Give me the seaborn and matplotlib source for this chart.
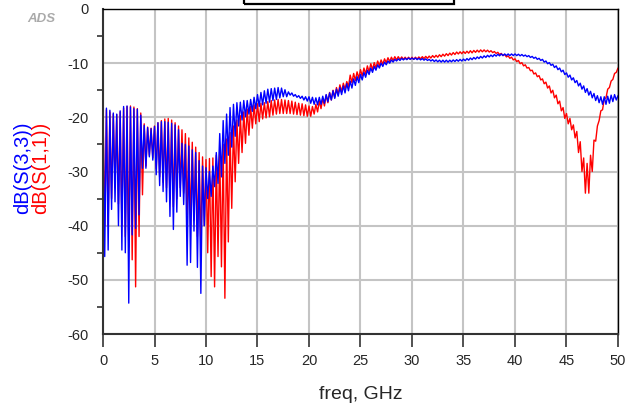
import numpy as np
import pandas as pd
import matplotlib
matplotlib.use("Agg")
import matplotlib.pyplot as plt
from matplotlib.patches import Rectangle
import seaborn as sns

# sweep: 0..50 GHz, 1/6 GHz step (301 points)
freq_ghz = np.arange(301) / 6.0

# dB(S(3,3)), 12 points (2 GHz) per row
s33_db = [
    -18.4, -45.7, -18.3, -44.5, -18.7, -37.0, -19.2, -35.6, -19.4, -40.0, -18.8, -44.5,
    -18.0, -45.0, -17.9, -54.3, -18.1, -41.7, -18.4, -40.5, -18.5, -38.0, -19.6, -29.4,
    -21.5, -29.4, -21.9, -27.3, -22.1, -27.9, -21.7, -30.6, -21.0, -32.6, -20.8, -33.7,
    -20.8, -35.6, -20.9, -38.3, -21.1, -40.7, -21.4, -37.5, -22.3, -34.6, -24.8, -36.1,
    -25.0, -47.3, -25.3, -46.8, -26.0, -41.0, -26.5, -47.7, -28.0, -52.5, -29.0, -40.0,
    -29.3, -35.0, -30.0, -34.6, -29.0, -32.8, -26.5, -32.2, -23.0, -31.0, -20.6, -28.5,
    -19.4, -27.0, -18.2, -25.5, -17.6, -23.5, -17.3, -21.6, -17.2, -20.5, -16.9, -19.9,
    -16.9, -19.4, -16.7, -18.9, -16.3, -18.4, -15.8, -18.0, -15.4, -17.7, -15.1, -17.4,
    -14.8, -17.2, -14.7, -16.9, -14.6, -16.7, -14.5, -16.4, -14.6, -16.2, -14.9, -16.2,
    -15.3, -15.9, -15.5, -16.1, -15.8, -16.3, -16.0, -16.5, -16.1, -16.8, -16.2, -17.0,
    -16.2, -17.4, -16.3, -17.6, -16.4, -17.7, -16.3, -17.6, -16.1, -17.4, -15.8, -17.1,
    -15.5, -16.8, -15.1, -16.5, -14.8, -16.1, -14.5, -15.8, -14.2, -15.5, -13.8, -15.1,
    -13.3, -14.6, -12.9, -14.1, -12.5, -13.6, -12.1, -13.1, -11.7, -12.6, -11.3, -12.1,
    -10.9, -11.7, -10.6, -11.3, -10.3, -10.9, -10.0, -10.6, -9.8, -10.3, -9.6, -10.0,
    -9.4, -9.8, -9.3, -9.6, -9.2, -9.5, -9.1, -9.4, -9.1, -9.35, -9.05, -9.3,
    -9.05, -9.3, -9.05, -9.35, -9.1, -9.4, -9.15, -9.45, -9.2, -9.5, -9.3, -9.6,
    -9.35, -9.7, -9.4, -9.75, -9.45, -9.8, -9.45, -9.8, -9.45, -9.8, -9.45, -9.75,
    -9.4, -9.7, -9.35, -9.65, -9.3, -9.6, -9.25, -9.55, -9.15, -9.45, -9.05, -9.35,
    -8.95, -9.25, -8.85, -9.15, -8.75, -9.05, -8.65, -8.95, -8.55, -8.85, -8.5, -8.8,
    -8.4, -8.7, -8.35, -8.65, -8.3, -8.6, -8.3, -8.6, -8.3, -8.6, -8.3, -8.6,
    -8.3, -8.6, -8.35, -8.65, -8.4, -8.7, -8.5, -8.8, -8.6, -8.95, -8.75, -9.1,
    -8.9, -9.3, -9.1, -9.5, -9.3, -9.8, -9.6, -10.1, -9.9, -10.4, -10.2, -10.8,
    -10.5, -11.2, -10.9, -11.6, -11.3, -12.1, -11.8, -12.6, -12.2, -13.1, -12.7, -13.6,
    -13.2, -14.2, -13.7, -14.8, -14.2, -15.4, -14.7, -15.9, -15.2, -16.4, -15.6, -16.9,
    -16.0, -17.3, -16.2, -17.6, -16.2, -17.6, -16.1, -17.4, -15.9, -17.1, -15.8, -16.8,
    -16.0,
]

# dB(S(1,1))
s11_db = [
    -18.8, -40.0, -18.6, -40.0, -19.0, -35.0, -19.4, -33.0, -19.5, -36.0, -19.0, -40.0,
    -18.3, -42.0, -18.0, -44.0, -17.9, -46.3, -18.1, -51.3, -18.4, -42.0, -19.2, -34.3,
    -21.2, -29.0, -21.8, -27.0, -22.0, -27.5, -21.6, -29.5, -21.0, -31.0, -20.6, -32.0,
    -20.3, -33.0, -20.2, -35.0, -20.5, -36.5, -21.0, -35.0, -21.6, -33.0, -22.3, -34.0,
    -23.0, -38.0, -23.8, -40.0, -24.6, -39.0, -25.5, -42.0, -26.5, -44.0, -27.3, -40.0,
    -27.8, -45.0, -27.6, -49.4, -27.5, -51.3, -27.0, -45.7, -26.0, -47.6, -25.0, -53.4,
    -24.0, -43.0, -22.8, -36.8, -21.6, -31.9, -20.5, -28.5, -19.7, -26.5, -19.0, -24.8,
    -18.5, -23.3, -18.0, -22.0, -17.7, -21.2, -17.5, -20.8, -17.4, -20.3, -17.3, -20.1,
    -17.1, -19.9, -16.9, -19.6, -16.8, -19.4, -16.7, -19.3, -16.7, -19.3, -16.8, -19.3,
    -16.9, -19.3, -17.0, -19.4, -17.2, -19.5, -17.4, -19.6, -17.5, -19.7, -17.7, -19.8,
    -17.9, -19.8, -18.0, -19.4, -17.6, -19.0, -17.0, -18.4, -16.5, -17.9, -15.9, -17.3,
    -15.4, -16.8, -15.0, -16.3, -14.5, -15.8, -14.0, -15.3, -13.7, -14.8, -13.4, -14.3,
    -12.2, -13.6, -11.9, -13.2, -11.6, -12.8, -11.2, -12.4, -10.9, -12.0, -10.5, -11.6,
    -10.1, -11.2, -9.9, -10.9, -9.6, -10.5, -9.4, -10.2, -9.2, -9.9, -9.0, -9.7,
    -8.9, -9.5, -8.8, -9.4, -8.8, -9.3, -8.85, -9.3, -8.9, -9.3, -8.9, -9.3,
    -8.9, -9.3, -8.9, -9.25, -8.85, -9.2, -8.8, -9.15, -8.75, -9.1, -8.7, -9.05,
    -8.6, -8.95, -8.55, -8.9, -8.45, -8.8, -8.35, -8.7, -8.25, -8.6, -8.15, -8.5,
    -8.05, -8.4, -7.95, -8.3, -7.9, -8.25, -7.85, -8.2, -7.8, -8.15, -7.7, -8.1,
    -7.65, -8.0, -7.6, -7.95, -7.55, -7.9, -7.55, -7.9, -7.6, -7.95, -7.7, -8.05,
    -7.85, -8.2, -8.0, -8.4, -8.2, -8.6, -8.4, -8.85, -8.65, -9.1, -8.9, -9.4,
    -9.2, -9.7, -9.5, -10.1, -9.9, -10.5, -10.3, -10.9, -10.8, -11.4, -11.3, -12.0,
    -11.8, -12.5, -12.3, -13.1, -12.9, -13.8, -13.5, -14.6, -14.2, -15.5, -15.0, -16.4,
    -15.9, -17.5, -17.0, -18.8, -18.2, -20.2, -19.3, -21.2, -20.2, -22.3, -21.4, -23.8,
    -22.6, -26.5, -24.5, -30.0, -27.5, -34.0, -28.5, -34.0, -27.0, -30.0, -24.2, -24.4,
    -21.6, -20.6, -18.8, -18.6, -16.6, -16.4, -14.8, -14.5, -13.3, -13.0, -11.9, -11.7,
    -10.9,
]

x_ticks = [0, 5, 10, 15, 20, 25, 30, 35, 40, 45, 50]
y_ticks = [-60, -50, -40, -30, -20, -10, 0]

df = pd.DataFrame({"freq": freq_ghz, "s11": s11_db, "s33": s33_db})

sns.set_style("white")
plt.rcParams["font.family"] = ["Liberation Sans", "DejaVu Sans"]
plt.rcParams["axes.unicode_minus"] = False

fig = plt.figure(figsize=(6.25, 4.04), dpi=100)
ax = fig.add_axes([103 / 625, 70 / 404, 515 / 625, 325 / 404])

sns.lineplot(data=df, x="freq", y="s11", color="#ff0000", lw=1.0,
             estimator=None, sort=False, ax=ax)
sns.lineplot(data=df, x="freq", y="s33", color="#0000ff", lw=1.0,
             estimator=None, sort=False, ax=ax)

ax.set_xlim(0, 50)
ax.set_ylim(-60, 0)
ax.set_xticks(x_ticks)
ax.set_yticks(y_ticks)
ax.set_yticks(np.arange(-55, 0, 10), minor=True)
ax.grid(True, which="major", color="#c4c4c4", lw=1.5)
ax.set_axisbelow(True)

ax.tick_params(axis="y", which="major", direction="out", length=9.5, width=1.2,
               color="#333333", labelsize=10.5, pad=1)
ax.tick_params(axis="y", which="minor", direction="out", length=4.5, width=1.2,
               color="#333333", left=True)
ax.tick_params(axis="x", which="major", direction="out", length=9.5, width=1.2,
               color="#333333", labelsize=10.5, pad=5, bottom=True)

for side in ["left", "bottom"]:
    ax.spines[side].set_color("#333333")
    ax.spines[side].set_linewidth(1.5)
for side in ["top", "right"]:
    ax.spines[side].set_color("black")
    ax.spines[side].set_linewidth(1.0)

ax.set_xlabel("freq, GHz", fontsize=14, labelpad=13)
ax.set_ylabel("")

fig.text(23 / 625, 1 - 168 / 404, "dB(S(3,3))", color="#0000ff", fontsize=14.5,
         rotation=90, ha="center", va="center")
fig.text(41 / 625, 1 - 168 / 404, "dB(S(1,1))", color="#ff0000", fontsize=14.5,
         rotation=90, ha="center", va="center")
fig.text(41 / 625, 1 - 19 / 404, "ADS", color="#aaaaaa", fontsize=9.5,
         style="italic", weight="bold", ha="center", va="center")

# marker readout box peeking in at the top
fig.patches.append(Rectangle((244 / 625, 1 - 3.5 / 404), 210 / 625, 0.05,
                             transform=fig.transFigure, fill=False,
                             edgecolor="black", lw=1.6, clip_on=False))

fig.savefig("out.png", dpi=100)
